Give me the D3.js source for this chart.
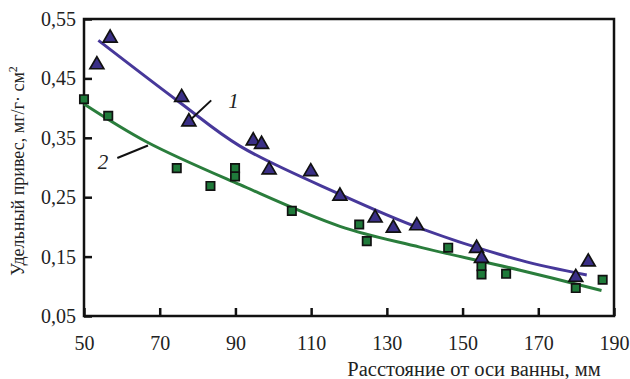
<!DOCTYPE html>
<html>
<head>
<meta charset="utf-8">
<script src="https://cdn.jsdelivr.net/npm/d3@7"></script>
<style>
  body { margin: 0; background: #fff; }
  svg text { font-family: "Liberation Serif", "Times New Roman", serif; fill: #222; }
</style>
</head>
<body>
<div id="chart"></div>
<script>
// DATA
// series 1 (triangles)
var triX = [53.4, 56.9, 75.8, 77.7, 94.7, 96.9, 98.9, 109.9, 117.6, 126.9, 131.7, 137.9, 153.7, 155.0, 179.9, 183.2];
var triY = [0.473, 0.518, 0.418, 0.377, 0.345, 0.339, 0.296, 0.293, 0.252, 0.215, 0.198, 0.202, 0.164, 0.147, 0.115, 0.141];
// series 2 (squares)
var sqX = [50, 56.4, 74.5, 83.4, 89.9, 89.9, 104.9, 122.7, 124.7, 146.2, 155.0, 155.0, 161.5, 179.9, 187.0];
var sqY = [0.415, 0.387, 0.299, 0.269, 0.299, 0.285, 0.227, 0.204, 0.176, 0.165, 0.134, 0.120, 0.121, 0.097, 0.111];
// trend lines
var fit1X = [53.8, 75.4, 91.2, 117.6, 138.7, 165.2, 182.8];
var fit1Y = [0.514, 0.409, 0.336, 0.255, 0.198, 0.144, 0.119];
var fit2X = [50, 66.6, 91.2, 117.6, 138.7, 165.2, 186.7];
var fit2Y = [0.407, 0.343, 0.271, 0.201, 0.166, 0.127, 0.093];

var xTicks = [50, 70, 90, 110, 130, 150, 170, 190];
var yTicks = [0.05, 0.15, 0.25, 0.35, 0.45, 0.55];

// curve labels: text, anchor of text, leader line start / end (data units)
var labels = [
    { text: "1", x: 89.5, y: 0.412, from: [78.4, 0.382], to: [83.6, 0.413] },
    { text: "2", x: 55.0, y: 0.310, from: [58.8, 0.316], to: [66.9, 0.337] }
];

// LAYOUT
var WIDTH = 630, HEIGHT = 379;
var M = { left: 84, right: 16, top: 19, bottom: 63 };
var PURPLE = "#3a2f86", GREEN = "#1f7a3a";
var LINE1 = "#47389a", LINE2 = "#2a7d3c";

var x = d3.scaleLinear().domain([50, 190]).range([M.left, WIDTH - M.right]);
var y = d3.scaleLinear().domain([0.05, 0.55]).range([HEIGHT - M.bottom, M.top]);

var ru = d3.formatLocale({ decimal: ",", thousands: " ", grouping: [3], currency: ["", ""] });
var fmt = ru.format(".2f");

var svg = d3.select("#chart").append("svg")
    .attr("width", WIDTH)
    .attr("height", HEIGHT);

// axes (ticks point inward)
var xAxis = svg.append("g")
    .attr("transform", "translate(0," + (HEIGHT - M.bottom) + ")")
    .call(d3.axisBottom(x).tickValues(xTicks).tickSize(-8).tickPadding(20).tickFormat(d3.format("d")));

var yAxis = svg.append("g")
    .attr("transform", "translate(" + M.left + ",0)")
    .call(d3.axisLeft(y).tickValues(yTicks).tickSize(-8).tickPadding(8).tickFormat(fmt));

[xAxis, yAxis].forEach(function(a) {
    a.select(".domain").remove();
    a.selectAll(".tick line").attr("stroke", "#111").attr("stroke-width", 2.5);
    a.selectAll(".tick text").attr("font-size", 20).attr("font-family", "Liberation Serif").attr("fill", "#222");
});

// frame
svg.append("rect")
    .attr("x", x(50)).attr("y", y(0.55))
    .attr("width", x(190) - x(50)).attr("height", y(0.05) - y(0.55))
    .attr("fill", "none").attr("stroke", "#111").attr("stroke-width", 2.5);

// trend lines
var line = d3.line()
    .x(function(d) { return x(d[0]); })
    .y(function(d) { return y(d[1]); })
    .curve(d3.curveCatmullRom);

svg.append("path")
    .datum(d3.zip(fit1X, fit1Y))
    .attr("d", line)
    .attr("fill", "none").attr("stroke", LINE1).attr("stroke-width", 3);

svg.append("path")
    .datum(d3.zip(fit2X, fit2Y))
    .attr("d", line)
    .attr("fill", "none").attr("stroke", LINE2).attr("stroke-width", 3);

// markers
svg.selectAll(".sq")
    .data(d3.zip(sqX, sqY))
    .enter()
    .append("path")
    .attr("class", "sq")
    .attr("transform", function(d) { return "translate(" + x(d[0]) + "," + y(d[1]) + ")"; })
    .attr("d", d3.symbol().type(d3.symbolSquare).size(70))
    .attr("fill", GREEN).attr("stroke", "#111").attr("stroke-width", 1.7);

svg.selectAll(".tri")
    .data(d3.zip(triX, triY))
    .enter()
    .append("path")
    .attr("class", "tri")
    .attr("transform", function(d) { return "translate(" + x(d[0]) + "," + y(d[1]) + ")"; })
    .attr("d", d3.symbol().type(d3.symbolTriangle).size(84))
    .attr("fill", PURPLE).attr("stroke", "#111").attr("stroke-width", 1.7);

// curve labels
labels.forEach(function(l) {
    svg.append("line")
        .attr("x1", x(l.from[0])).attr("y1", y(l.from[1]))
        .attr("x2", x(l.to[0])).attr("y2", y(l.to[1]))
        .attr("stroke", "#111").attr("stroke-width", 2);
    svg.append("text")
        .attr("x", x(l.x)).attr("y", y(l.y))
        .attr("dy", "0.35em")
        .attr("text-anchor", "middle")
        .attr("font-size", 21)
        .attr("font-style", "italic")
        .text(l.text);
});

// axis titles
svg.append("text")
    .attr("x", 474).attr("y", 376)
    .attr("text-anchor", "middle")
    .attr("font-size", 20.5)
    .text("Расстояние от оси ванны, мм");

var yt = svg.append("text")
    .attr("transform", "translate(24,171) rotate(-90)")
    .attr("text-anchor", "middle")
    .attr("font-size", 18);
yt.append("tspan").text("Удельный привес, мг/г· см");
yt.append("tspan").attr("baseline-shift", "super").attr("font-size", 12).text("2");
</script>
</body>
</html>
